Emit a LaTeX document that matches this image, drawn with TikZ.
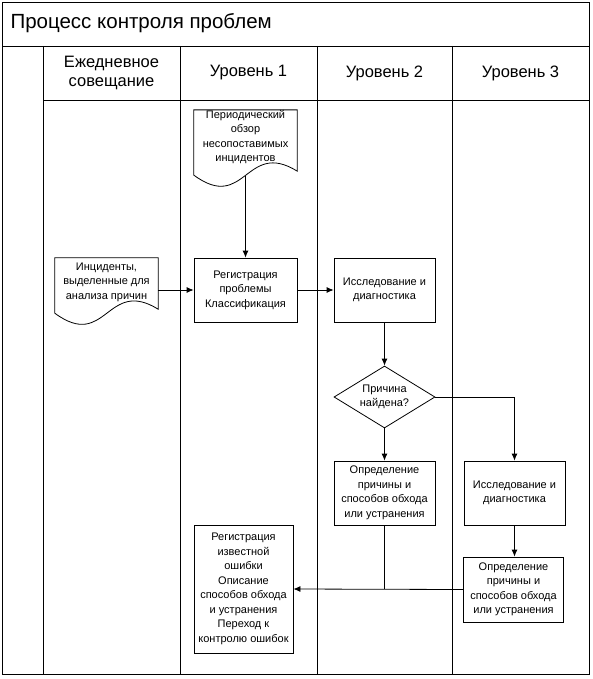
\documentclass[tikz,border=0pt]{standalone}
\usepackage{fontspec}
\setmainfont{Liberation Sans}
\usetikzlibrary{positioning,shapes.geometric,arrows.meta}
\tikzset{stepbox/.style={draw,line width=0.8pt,align=center,inner sep=0pt,
    font=\fontsize{11}{14.5}\selectfont},
  docbox/.style={align=center,inner sep=0pt,font=\fontsize{11}{14.5}\selectfont},
  lane/.style={font=\fontsize{16.5}{18.5}\selectfont,align=center}
}
% outline of a document shape round a node, bottom dropped by #1
\newcommand{\docshape}[2][0pt]{%
  \draw[line width=0.8pt] ([yshift=-#1]#2.south west) -- (#2.north west) -- (#2.north east)
    -- ([yshift=-#1+4pt]#2.south east) .. controls ([yshift=-#1+36pt]#2.south) and ([yshift=-#1-38pt]#2.south) .. ([yshift=-#1]#2.south west) -- cycle;}

\begin{document}
\begin{tikzpicture}[x=1pt,y=-1pt,>={Latex[length=7pt,width=6pt]}]
  \useasboundingbox (0,0) rectangle (593,679);

  % Frame and lanes
  \draw[line width=0.8pt] (2,2) rectangle (589,674);
  \draw[line width=0.8pt] (2,46) -- (589,46);
  \draw[line width=0.8pt] (43,100) -- (589,100);
  \foreach \x in {43,180,317,452}
    \draw[line width=0.8pt] (\x,46) -- (\x,674);

  % Title and lane headers
  \node[anchor=west,font=\fontsize{20.5}{24}\selectfont] (title) at (7,23) {Процесс контроля проблем};
  \node[lane] (h0) at (111.5,73) {Ежедневное\\совещание};
  \node[lane] (h1) at (248.5,73) {Уровень 1};
  \node[lane] (h2) at (384.5,73) {Уровень 2};
  \node[lane] (h3) at (520.5,73) {Уровень 3};

  % Inputs
  \node[docbox, minimum width=103pt, minimum height=50pt] (obzor) at (245.5,137)
    {Периодический\\обзор\\несопоставимых\\инцидентов};
  \node[docbox, minimum width=103pt, minimum height=48pt] (incid) at (106.5,282)
    {Инциденты,\\выделенные для\\анализа причин};
  \docshape[11pt]{obzor}
  \docshape[7pt]{incid}

  % Steps
  \node[stepbox, minimum width=103pt, minimum height=64pt] (reg1) at (245.5,290)
    {Регистрация\\проблемы\\Классификация};
  \node[stepbox, minimum width=101pt, minimum height=64pt] (issl2) at (384.5,290)
    {Исследование и\\диагностика};
  \node[stepbox, diamond, aspect=1.63, minimum width=101pt, minimum height=62pt] (cause) at (384.5,397)
    {Причина\\найдена?};
  \node[stepbox, minimum width=101pt, minimum height=64pt] (opr2) at (384.5,493)
    {Определение\\причины и\\способов обхода\\или устранения};
  \node[stepbox, minimum width=101pt, minimum height=64pt] (issl3) at (514.5,493)
    {Исследование и\\диагностика};
  \node[stepbox, minimum width=100pt, minimum height=65pt] (opr3) at (513.5,589.5)
    {Определение\\причины и\\способов обхода\\или устранения};
  \node[stepbox, minimum width=99pt, minimum height=128pt] (known) at (243.5,589)
    {Регистрация\\известной\\ошибки\\Описание\\способов обхода\\и устранения\\Переход к\\контролю ошибок};

  % Connectors
  \draw[->, line width=0.8pt] ([yshift=-12pt]obzor.south) -- (reg1.north);
  \draw[->, line width=0.8pt] (reg1.west -| incid.east) -- (reg1.west);
  \draw[->, line width=0.8pt] (reg1.east) -- (issl2.west);
  \draw[->, line width=0.8pt] (issl2.south) -- (cause.north);
  \draw[->, line width=0.8pt] (cause.south) -- (opr2.north);
  \draw[->, line width=0.8pt] (cause.east) -| (issl3.north);
  \draw[->, line width=0.8pt] (issl3.south) -- (issl3.south |- opr3.north);
  \draw[->, line width=0.8pt] (opr3.west) -- (known.east);
  \draw[line width=0.8pt] (opr2.south) -- (opr2.south |- known.east);

\end{tikzpicture}
\end{document}
